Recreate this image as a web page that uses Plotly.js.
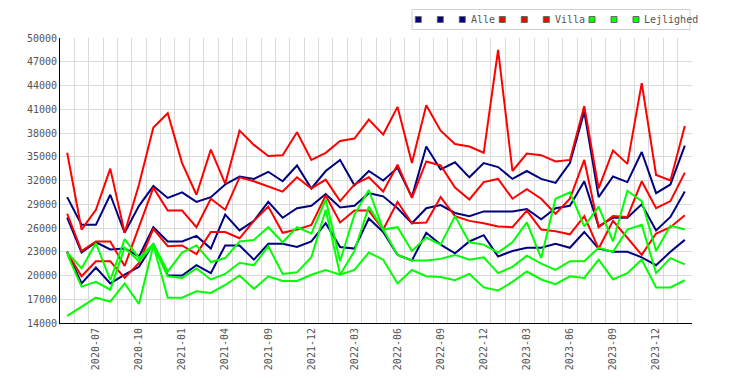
<!DOCTYPE html>
<html><head><meta charset="utf-8">
<script src="https://cdn.plot.ly/plotly-3.0.1.min.js"></script>
<style>html,body{margin:0;padding:0;background:#fff}#chart{width:750px;height:385px}</style>
</head><body><div id="chart"></div>
<script>
const months = ['2020-05','2020-06','2020-07','2020-08','2020-09','2020-10','2020-11','2020-12',
  '2021-01','2021-02','2021-03','2021-04','2021-05','2021-06','2021-09','2021-10','2021-11','2021-12',
  '2022-01','2022-02','2022-03','2022-04','2022-05','2022-06','2022-07','2022-08','2022-09','2022-10',
  '2022-11','2022-12','2023-01','2023-02','2023-03','2023-04','2023-05','2023-06','2023-07','2023-08',
  '2023-09','2023-10','2023-11','2023-12','2024-01','2024-02'];

const alleHigh = [29900,26400,26400,30200,25400,28800,31300,29800,30500,29300,29900,31500,32500,32200,33100,31900,33900,31000,
  33200,34600,31400,33200,32000,33600,29900,36300,33400,34300,32400,34200,33700,32200,33200,32200,31700,34200,40700,29900,
  32500,31800,35600,30400,31500,36400];
const alleMid = [27300,22900,24200,23300,23400,22400,26100,24300,24300,25000,23400,27700,25700,26900,29300,27300,28500,28800,
  30300,28600,28800,30400,30000,28500,26600,28500,28900,27900,27500,28100,28100,28100,28400,27100,28500,28800,31900,26200,
  27300,27300,29000,25700,27400,30600];
const alleLow = [23000,19000,21000,19000,20100,21100,24000,20000,20000,21300,20300,23800,23800,22000,24000,24000,23600,24300,
  26600,23600,23400,27200,25500,22600,21900,25400,23900,22800,24300,25100,22400,23100,23500,23500,24000,23500,25500,23400,
  23000,23000,22300,21300,23000,24500];

const villaHigh = [35500,25800,28300,33500,25400,31500,38700,40500,34200,30200,35900,31600,38300,36500,35100,35200,38100,34600,
  35500,37000,37300,39700,37800,41300,34200,41500,38300,36600,36300,35500,48500,33200,35400,35200,34400,34600,41400,31000,
  35800,34100,44300,32700,32000,38900];
const villaMid = [27800,23100,24300,24300,21200,26200,31100,28200,28200,26100,29700,28300,32400,31900,31300,30600,32400,31000,
  32100,29400,31500,32400,30600,34000,29800,34400,33900,31100,29600,31800,32200,29700,30900,29700,27800,29700,34600,26100,
  27500,27400,31900,28500,29400,33000];
const villaLow = [22900,19900,21800,21800,19700,21600,25900,23700,23800,22700,25500,25500,24700,26900,28700,25400,25800,26400,
  30100,26700,28200,28200,25800,29300,26600,26700,29900,27500,26900,26600,26200,26100,28200,25800,25600,25200,27500,23400,
  26900,24700,22600,25300,26100,27600];

const lejlHigh = [22900,20900,24100,19400,24600,22200,24000,20500,22900,23800,21700,22200,24300,24500,26100,24200,26100,25300,
  29600,21800,27700,30800,25800,26100,23100,24800,23900,27500,24200,23900,22900,24200,26700,22200,29700,30500,26200,28700,
  24300,30700,29400,23100,26300,25800];
const lejlMid = [22700,18600,19200,18200,23500,21800,23800,19900,19700,20900,19500,20200,21600,21300,23700,20200,20400,22300,
  28300,20100,23100,28700,25800,22600,21900,21900,22100,22600,22000,22300,20300,21100,22500,21500,20700,21800,21800,23500,
  23000,25800,26400,20300,22200,21400];
const lejlLow = [14900,16000,17200,16700,19000,16400,23800,17200,17200,18000,17800,18800,20000,18300,19900,19300,19300,20100,
  20700,20100,20700,22900,22000,19000,20700,19900,19800,19400,20200,18500,18100,19200,20500,19500,18900,19900,19700,22000,
  19500,20300,22000,18500,18500,19400];

const groupNames = ['Alle','Villa','Lejlighed'];
const groupColors = ['#000080','#ff0000','#00ff00'];
const groupSeries = [[alleHigh,alleMid,alleLow],[villaHigh,villaMid,villaLow],[lejlHigh,lejlMid,lejlLow]];

const idx = months.map((m,i)=>i);
const tickIdx = idx.filter(i => i % 3 === 2);
const tickText = tickIdx.map(i => months[i]);

const traces = [];
groupSeries.forEach((ss,g) => ss.forEach(s => traces.push({
  x: idx, y: s, type:'scatter', mode:'lines', name: groupNames[g],
  line:{color: groupColors[g], width:2}, showlegend:false,
  text: months, hovertemplate:'%{text}: %{y}<extra>'+groupNames[g]+'</extra>'
})));

// legend drawn in pixel positions, converted to paper coordinates
const L = 60, R = 58, T = 38, B = 62, W = 750, H = 385;
const pw = W - L - R, ph = H - T - B;
const px = x => (x - L) / pw;
const py = y => (H - B - y) / ph;
const shapes = [{type:'rect', xref:'paper', yref:'paper', x0:px(412), x1:px(690), y0:py(29.5), y1:py(9.5),
  line:{color:'#d0d0d0', width:1}, fillcolor:'#ffffff', layer:'above'}];
const annotations = [];
const legStart = [418.3, 502.3, 592];
const legText = [468.5, 552.5, 642];
groupNames.forEach((n,g) => {
  for (let k=0;k<3;k++){
    const cx = legStart[g] + 22*k, cy = 19.5;
    shapes.push({type:'rect', xref:'paper', yref:'paper', x0:px(cx-3), x1:px(cx+3), y0:py(cy+3), y1:py(cy-3),
      line:{color:'#666', width:1}, fillcolor:groupColors[g], layer:'above'});
  }
  annotations.push({xref:'paper', yref:'paper', x:px(legText[g]), y:py(19.5), xanchor:'left', yanchor:'middle',
    text:n, showarrow:false, font:{family:'DejaVu Sans Mono, monospace', size:10, color:'#555'}});
});

const layout = {
  width:W, height:H, margin:{l:L, r:R, t:T, b:B},
  paper_bgcolor:'#fff', plot_bgcolor:'#fff', showlegend:false,
  font:{family:'DejaVu Sans Mono, monospace', size:10, color:'#555'},
  xaxis:{type:'linear', range:[-0.5, months.length-0.5], tickmode:'array', tickvals:tickIdx, ticktext:tickText,
    tickangle:-90, showgrid:false, zeroline:false, showline:true, linecolor:'#000', linewidth:1, ticks:'',
    minor:{tickmode:'linear', tick0:0.5, dtick:1, showgrid:true, gridcolor:'#dadada', gridwidth:1, ticks:''}},
  yaxis:{type:'linear', range:[14000,50000], tickmode:'linear', tick0:14000, dtick:3000, tickformat:'d',
    showgrid:true, gridcolor:'#dadada', gridwidth:1, zeroline:false, showline:true, linecolor:'#000', linewidth:1, ticks:''},
  shapes: shapes, annotations: annotations
};
Plotly.newPlot('chart', traces, layout, {displayModeBar:false, staticPlot:true});
</script></body></html>
